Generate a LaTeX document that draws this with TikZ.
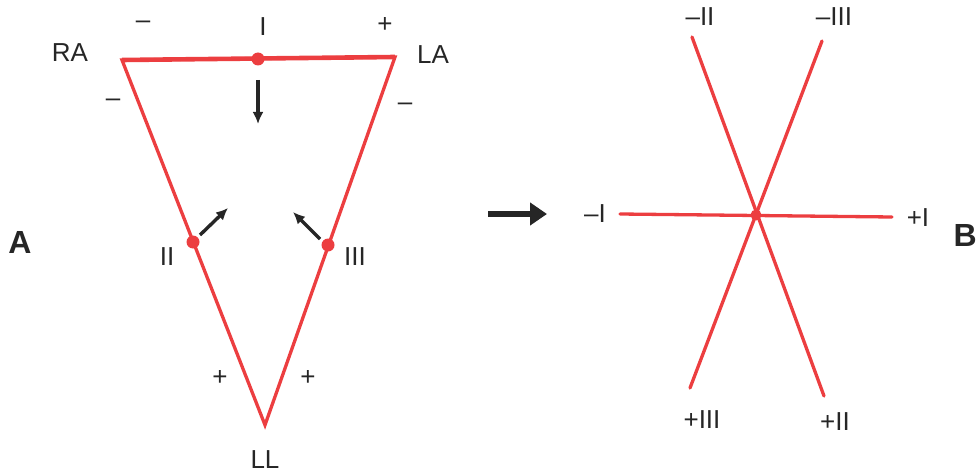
\documentclass[tikz,border=0pt]{standalone}
\usepackage{fontspec}
\setmainfont{Liberation Sans}
\usetikzlibrary{arrows.meta}
\definecolor{leadred}{RGB}{236,62,64}
\tikzset{
  lead/.style={draw=leadred, line width=3.3pt, line cap=round},
  dotnode/.style={circle, fill=leadred, inner sep=0pt, minimum size=13pt},
  lbl/.style={font=\fontsize{26}{28}\selectfont, inner sep=0pt, text=black!85},
  biglbl/.style={font=\fontsize{32}{34}\selectfont\bfseries, inner sep=0pt, text=black!85},
  vec/.style={draw=black!85, line width=3.4pt, -{Latex[length=12pt,width=11pt]}},
}
\begin{document}
\begin{tikzpicture}[x=1pt,y=-1pt]
\useasboundingbox (0,0) rectangle (979,476);
% triangle corners
\coordinate (RA) at (122,60);
\coordinate (LA) at (395,57);
\coordinate (LL) at (265,425);
\draw[lead, line width=3.3pt, line join=miter] (LL) -- (RA) -- (LA) -- cycle;
\draw[lead, line width=4.6pt, line cap=butt] (RA) -- (LA);
\node[dotnode] (dI) at (258,59) {};
\node[dotnode] (dII) at (193,242) {};
\node[dotnode] (dIII) at (328,245) {};
% vectors
\coordinate (aI1) at (258,80); \coordinate (aI2) at (258,124);
\coordinate (aII1) at (200,235); \coordinate (aII2) at (228,208);
\coordinate (aIII1) at (320,239); \coordinate (aIII2) at (293,212);
\draw[vec] (aI1) -- (aI2);
\draw[vec] (aII1) -- (aII2);
\draw[vec] (aIII1) -- (aIII2);
% labels A
\node[lbl] (tRA) at (70,53) {RA};
\node[lbl] (tLA) at (433,55) {LA};
\node[lbl] (tm1) at (143,25) {–};
\node[lbl] (tI) at (263,27) {I};
\node[lbl] (tp1) at (385,25) {+};
\node[lbl] (tm2) at (113,103) {–};
\node[lbl] (tm3) at (405,107) {–};
\node[lbl] (tII) at (167,257) {II};
\node[lbl] (tIII) at (355,257) {III};
\node[lbl] (tp2) at (220,378) {+};
\node[lbl] (tp3) at (308,378) {+};
\node[lbl] (tLL) at (265,460) {LL};
\node[biglbl] (tA) at (20,242) {A};
% big arrow
\coordinate (b1) at (488,214); \coordinate (b2) at (547,214);
\draw[draw=black!85, line width=5.5pt, -{Triangle[length=17pt,width=22pt]}] (b1) -- (b2);
% hexaxial
\coordinate (C) at (756,215);
\coordinate (mI) at (620,214); \coordinate (pI) at (892,217);
\coordinate (mII) at (692,37); \coordinate (pII) at (824,396);
\coordinate (mIII) at (822,41); \coordinate (pIII) at (690,388);
\draw[lead] (mI) -- (pI);
\draw[lead] (mII) -- (pII);
\draw[lead] (mIII) -- (pIII);
\node[dotnode, minimum size=11pt] (dC) at (C) {};
\node[lbl] (tmII) at (700,17) {–II};
\node[lbl] (tmIII) at (834,17) {–III};
\node[lbl] (tmI) at (595,214) {–I};
\node[lbl] (tpI) at (918,218) {+I};
\node[lbl] (tpIII) at (702,420) {+III};
\node[lbl] (tpII) at (835,422) {+II};
\node[biglbl, anchor=east] (tB) at (977,235) {B};
\end{tikzpicture}
\end{document}
